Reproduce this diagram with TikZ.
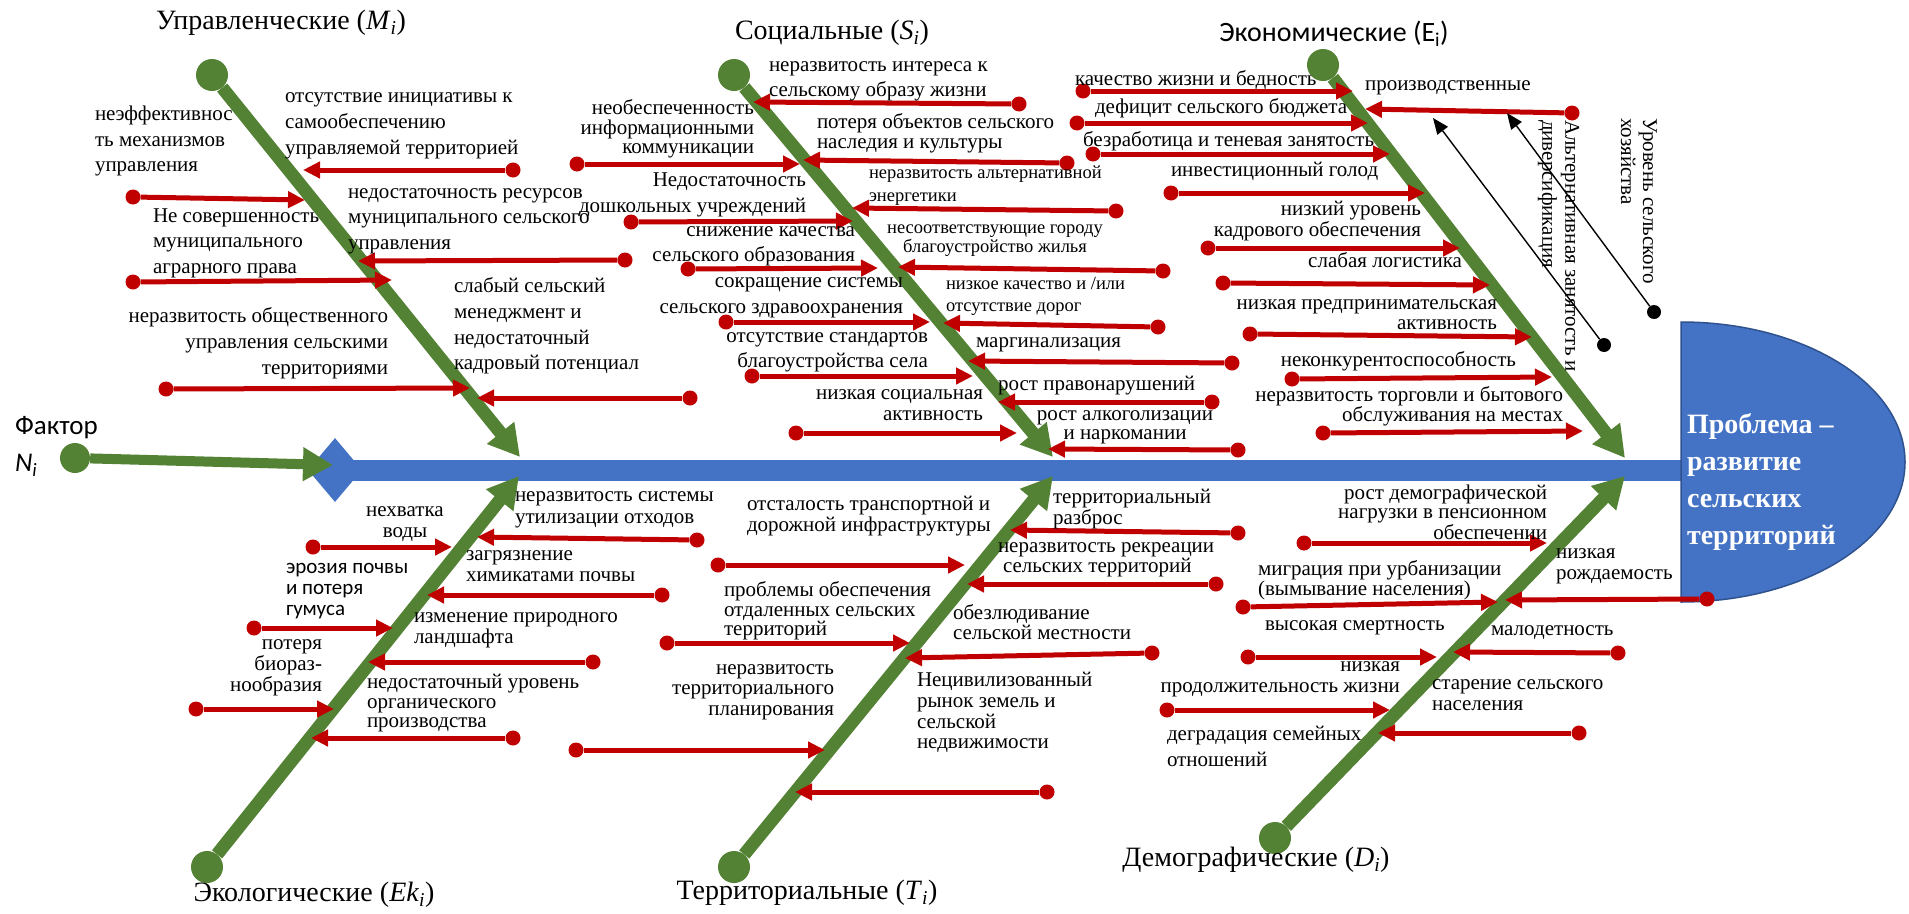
\documentclass[tikz,border=0pt]{standalone}
\usepackage{fontspec}
\setmainfont{Liberation Serif}
\newfontfamily\calibrifont{Carlito}
\usetikzlibrary{arrows.meta,shapes.geometric}
\definecolor{bonegreen}{RGB}{84,130,53}
\definecolor{causered}{RGB}{192,0,0}
\definecolor{spineblue}{RGB}{68,114,196}
\definecolor{edgeblue}{RGB}{47,82,143}
% serif and sans text at a given size and line spacing
\newcommand\fsz[2]{\rmfamily\fontsize{#1}{#2}\selectfont}
\newcommand\csz[2]{\calibrifont\fontsize{#1}{#2}\selectfont}
% a cause arrow: name, position of its dot, position of its tip
\newcommand\redcause[3]{%
  \node[rdot] (#1) at (#2) {};
  \coordinate (#1t) at (#3);
  \draw[rarrow] (#1) -- (#1t);}
% a main bone: name, position of its dot, position of its tip
\newcommand\greenbone[3]{%
  \node[gdot] (#1) at (#2) {};
  \coordinate (#1t) at (#3);
  \draw[bone] (#1) -- (#1t);}
\tikzset{
  bone/.style={line width=13pt, draw=bonegreen, -{Triangle[length=31pt,width=33pt]}},
  gdot/.style={circle, fill=bonegreen, minimum size=32pt, inner sep=0pt},
  rarrow/.style={line width=5pt, draw=causered, -{Triangle[length=17pt,width=16pt]}},
  rdot/.style={circle, fill=causered, minimum size=15pt, inner sep=0pt},
  kdot/.style={circle, fill=black, minimum size=14pt, inner sep=0pt},
  karrow/.style={line width=1.4pt, draw=black, -{Triangle[length=16pt,width=13pt]}},
  lab/.style={inner sep=0pt, outer sep=0pt, font=\fsz{21}{21}},
  labl/.style={lab, anchor=west, align=left},
  labr/.style={lab, anchor=east, align=right},
  labc/.style={lab, anchor=center, align=center},
  ttl/.style={inner sep=0pt, font=\fsz{28}{30}},
}
\begin{document}
\begin{tikzpicture}[x=1pt,y=-1pt]
\useasboundingbox (0,0) rectangle (1909,913);

% spine and head
\node[diamond, fill=spineblue, minimum width=54pt, minimum height=64pt, inner sep=0pt] (dia) at (335,470) {};
\coordinate (spineend) at (1690,470);
\draw[line width=21pt, spineblue] (dia.center) -- (spineend);
\draw[fill=spineblue, draw=edgeblue, line width=1.5pt]
  (1681,322) arc[start angle=-90, end angle=90, x radius=224, y radius=140] -- cycle;

% factor arrow
\node[gdot, minimum size=30pt] (fac) at (75,458) {};
\coordinate (fact) at (333,465);
\draw[line width=10pt, bonegreen, -{Triangle[length=30pt,width=32pt]}] (fac) -- (fact);

% main bones
\greenbone{bm}{212,75}{520,457}
\greenbone{bs}{734,75}{1053,457}
\greenbone{be}{1323,65}{1625,458}
\greenbone{bk}{207,867}{519,476}
\greenbone{bt}{734,867}{1053,476}
\greenbone{bd}{1275,838}{1625,476}

% management causes
\redcause{m1}{513,170}{303,170}
\redcause{m2}{133,197}{305,200}
\redcause{m3}{625,260}{358,261}
\redcause{m4}{133,282}{392,280}
\redcause{m5}{166,389}{470,388}
\redcause{m6}{690,398}{477,398}

% social causes
\redcause{s1}{1019,104}{753,102}
\redcause{s2}{577,164}{800,164}
\redcause{s3}{1067,163}{803,160}
\redcause{s4}{1116,211}{852,208}
\redcause{s5}{631,222}{853,221}
\redcause{s6}{688,269}{878,268}
\redcause{s7}{1163,271}{898,267}
\redcause{s8}{726,322}{930,322}
\redcause{s9}{1158,327}{943,323}
\redcause{s10}{752,376}{973,376}
\redcause{s11}{1232,363}{968,361}
\redcause{s12}{796,433}{1017,433}
\redcause{s13}{1212,402}{998,402}
\redcause{s14}{1238,450}{1048,449}

% economic causes
\redcause{e1}{1083,91}{1353,91}
\redcause{e2}{1572,113}{1365,109}
\redcause{e3}{1077,123}{1368,123}
\redcause{e4}{1093,154}{1390,154}
\redcause{e5}{1171,193}{1425,193}
\redcause{e6}{1208,248}{1460,248}
\redcause{e7}{1223,283}{1490,285}
\redcause{e8}{1250,334}{1532,337}
\redcause{e9}{1292,379}{1552,377}
\redcause{e10}{1323,433}{1583,431}

% ecological causes
\redcause{k1}{697,540}{477,537}
\redcause{k2}{313,547}{452,547}
\redcause{k3}{662,595}{427,595}
\redcause{k4}{254,628}{393,628}
\redcause{k5}{593,662}{368,662}
\redcause{k6}{196,709}{334,709}
\redcause{k7}{513,738}{311,738}

% territorial causes
\redcause{t1}{1238,533}{1010,530}
\redcause{t2}{718,565}{965,565}
\redcause{t3}{1216,584}{967,584}
\redcause{t4}{667,643}{910,643}
\redcause{t5}{1152,653}{905,658}
\redcause{t6}{576,750}{825,750}
\redcause{t7}{1047,792}{795,792}

% demographic causes
\redcause{d1}{1304,543}{1547,543}
\redcause{d2}{1243,607}{1498,602}
\redcause{d3}{1707,599}{1505,600}
\redcause{d4}{1248,657}{1437,657}
\redcause{d5}{1618,653}{1453,652}
\redcause{d6}{1167,710}{1390,710}
\redcause{d7}{1579,733}{1378,733}

% thin black arrows
\node[kdot] (q1) at (1654,312) {};
\coordinate (q1t) at (1507,113);
\draw[karrow] (q1) -- (q1t);
\node[kdot] (q2) at (1604,345) {};
\coordinate (q2t) at (1433,118);
\draw[karrow] (q2) -- (q2t);

% bone titles
\node[ttl] (tm) at (281,23) {Управленческие (\textit{M}\textsubscript{\textit{i}})};
\node[ttl] (ts) at (832,33) {Социальные (\textit{S}\textsubscript{\textit{i}})};
\node[ttl, font=\csz{28}{30}] (te) at (1334,34) {Экономические (E\textsubscript{i})};
\node[ttl] (tk) at (314,895) {Экологические (\textit{Ek}\textsubscript{\textit{i}})};
\node[ttl] (tt) at (807,893) {Территориальные (\textit{T}\textsubscript{\textit{i}})};
\node[ttl] (td) at (1256,860) {Демографические (\textit{D}\textsubscript{\textit{i}})};
\node[labl, font=\csz{27}{37}] (tf) at (15,446.5) {Фактор\\\textit{N}\textsubscript{\textit{i}}};
\node[labl, font=\bfseries\fsz{28}{36.7}, text=white] (tp) at (1687,482) {Проблема –\\развитие\\сельских\\территорий};

% rotated labels of the thin arrows
\node[lab, rotate=-90, anchor=west, align=left, font=\fsz{21}{23}] (ta) at (1558.5,120) {Альтернативная занятость и\\диверсификация};
\node[lab, rotate=-90, anchor=west, align=left, font=\fsz{21}{22}] (tl) at (1639,118) {Уровень сельского\\хозяйства};

% management labels
\node[labl, font=\fsz{21}{26}] (lm1) at (285,126) {отсутствие инициативы к\\самообеспечению\\управляемой территорией};
\node[labl, font=\fsz{21}{25.5}] (lm2) at (95,141) {неэффективнос\\ть механизмов\\управления};
\node[labl, font=\fsz{21}{25.5}] (lm3) at (348,221) {недостаточность ресурсов\\муниципального сельского\\управления};
\node[labl, font=\fsz{21}{25.5}] (lm4) at (153,243) {Не совершенность\\муниципального\\аграрного права};
\node[labr, font=\fsz{21}{26}] (lm5) at (388,343) {неразвитость общественного\\управления сельскими\\территориями};
\node[labl, font=\fsz{21}{25.7}] (lm6) at (454,326) {слабый сельский\\менеджмент и\\недостаточный\\кадровый потенциал};

% social labels
\node[labl, font=\fsz{21}{25}] (ls1) at (769,81.5) {неразвитость интереса к\\сельскому образу жизни};
\node[labr, font=\fsz{21}{19.5}] (ls2) at (754,129) {необеспеченность\\информационными\\коммуникации};
\node[labl, font=\fsz{21}{20}] (ls3) at (817,133) {потеря объектов сельского\\наследия и культуры};
\node[labl, font=\fsz{18.5}{23}] (ls4) at (869,185.5) {неразвитость альтернативной\\энергетики};
\node[labr, font=\fsz{21}{26}] (ls5) at (806,195) {Недостаточность\\дошкольных учреждений};
\node[labr, font=\fsz{21}{25}] (ls6) at (855,246.5) {снижение качества\\сельского образования};
\node[labc, font=\fsz{18.5}{19}] (ls7) at (995,240.5) {несоответствующие городу\\благоустройство жилья};
\node[labr, font=\fsz{21}{26}] (ls8) at (903,298) {сокращение системы\\сельского здравоохранения};
\node[labl, font=\fsz{18.5}{22}] (ls9) at (946,296) {низкое качество и /или\\отсутствие дорог};
\node[labr, font=\fsz{21}{25}] (ls10) at (928,352.5) {отсутствие стандартов\\благоустройства села};
\node[labl] (ls11) at (976,345) {маргинализация};
\node[labr] (ls12) at (983,405.5) {низкая социальная\\активность};
\node[labl] (ls13) at (998,386) {рост правонарушений};
\node[labc, font=\fsz{21}{19.5}] (ls14) at (1125,427.5) {рост алкоголизации\\и наркомании};

% economic labels
\node[labl] (le1) at (1075,80) {качество жизни и бедность};
\node[labl] (le2) at (1365,88) {производственные};
\node[labl] (le3) at (1095,108) {дефицит сельского бюджета};
\node[labl] (le4) at (1083,141) {безработица и теневая занятость};
\node[labl] (le5) at (1171,171) {инвестиционный голод};
\node[labr] (le6) at (1421,221.5) {низкий уровень\\кадрового обеспечения};
\node[labr] (le7) at (1462,260) {слабая логистика};
\node[labr, font=\fsz{21}{20}] (le8) at (1497,315) {низкая предпринимательская\\активность};
\node[labr] (le9) at (1516,361) {неконкурентоспособность};
\node[labr, font=\fsz{21}{20}] (le10) at (1563,406) {неразвитость торговли и бытового\\обслуживания на местах};

% ecological labels
\node[labl, font=\fsz{21}{22}] (lk1) at (515,510) {неразвитость системы\\утилизации отходов};
\node[labc] (lk2) at (405,524.5) {нехватка\\воды};
\node[labl] (lk3) at (466,566.5) {загрязнение\\химикатами почвы};
\node[labl, font=\csz{21}{21}] (lk4) at (286,591) {эрозия почвы\\и потеря\\гумуса};
\node[labl] (lk5) at (414,630.5) {изменение природного\\ландшафта};
\node[labr] (lk6) at (322,668) {потеря\\биораз-\\нообразия};
\node[labl, font=\fsz{21}{19.5}] (lk7) at (367,703.5) {недостаточный уровень\\органического\\производства};

% territorial labels
\node[labl] (lt1) at (747,516.5) {отсталость транспортной и\\дорожной инфраструктуры};
\node[labl] (lt2) at (1053,509.5) {территориальный\\разброс};
\node[labl, font=\fsz{21}{20}] (lt3) at (998,560) {неразвитость рекреации\\\hspace*{5pt}сельских территорий};
\node[labl, font=\fsz{21}{19.5}] (lt4) at (724,611) {проблемы обеспечения\\отдаленных сельских\\территорий};
\node[labl, font=\fsz{21}{20}] (lt5) at (953,622) {обезлюдивание\\сельской местности};
\node[labr, font=\fsz{21}{20.5}] (lt6) at (834,692) {неразвитость\\территориального\\планирования};
\node[labl, font=\fsz{21}{20.7}] (lt7) at (917,712.5) {Нецивилизованный\\рынок земель и\\сельской\\недвижимости};

% demographic labels
\node[labr, font=\fsz{21}{19.5}] (ld1) at (1547,512) {рост демографической\\нагрузки в пенсионном\\обеспечении};
\node[labl, font=\fsz{21}{20}] (ld2) at (1258,580) {миграция при урбанизации\\(вымывание населения)};
\node[labl] (ld3) at (1556,566.5) {низкая\\рождаемость};
\node[labl] (ld4) at (1265,628) {высокая смертность};
\node[labl] (ld5) at (1491,633) {малодетность};
\node[labr] (ld6) at (1400,679.5) {низкая\\продолжительность жизни};
\node[labl] (ld7) at (1432,695.5) {старение сельского\\населения};
\node[labl, font=\fsz{21}{26}] (ld8) at (1167,746) {деградация семейных\\отношений};
\end{tikzpicture}
\end{document}
